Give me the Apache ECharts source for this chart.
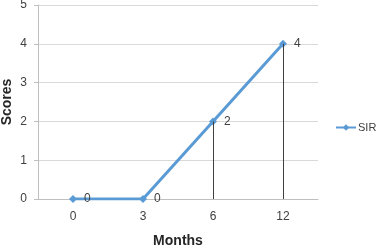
<!DOCTYPE html>
<html><head><meta charset="utf-8">
<script src="https://cdn.jsdelivr.net/npm/echarts@6/dist/echarts.min.js"></script>
<style>html,body{margin:0;padding:0;background:#fff}#c{width:378px;height:248px}</style>
</head><body><div id="c"></div>
<script>
const categories = ['0', '3', '6', '12'];
const sirValues = [0, 0, 2, 4];
const yTicks = [0, 1, 2, 3, 4, 5];
const seriesName = 'SIR';
const xTitle = 'Months';
const yTitle = 'Scores';

const dropLines = categories.map((c, i) => [{coord: [c, sirValues[i]]}, {coord: [c, 0]}]);
const font = 'Liberation Sans, Arial, sans-serif';
const chart = echarts.init(document.getElementById('c'));
chart.setOption({
  animation: false,
  grid: {left: 38, right: 60, top: 5, bottom: 49, outerBoundsMode: 'none', containLabel: false},
  legend: {
    data: [seriesName], left: 335, top: 122, padding: 0, itemWidth: 20, itemHeight: 8, itemGap: 4,
    textStyle: {fontFamily: font, fontSize: 11, color: '#404040', padding: [0, 0, 0, -3]}
  },
  xAxis: {
    type: 'category', data: categories, boundaryGap: true,
    name: xTitle, nameLocation: 'middle', nameGap: 35, nameMoveOverlap: false,
    nameTextStyle: {fontFamily: font, fontSize: 14, fontWeight: 'bold', color: '#262626'},
    axisLine: {lineStyle: {color: '#bfbfbf'}}, axisTick: {show: false},
    axisLabel: {fontFamily: font, fontSize: 12, color: '#404040', margin: 12}
  },
  yAxis: {
    type: 'value', min: yTicks[0], max: yTicks[yTicks.length - 1], interval: 1,
    name: yTitle, nameLocation: 'middle', nameGap: 24, nameRotate: 90, nameMoveOverlap: false,
    nameTextStyle: {fontFamily: font, fontSize: 14, fontWeight: 'bold', color: '#262626'},
    axisLine: {show: true, lineStyle: {color: '#bfbfbf'}},
    axisTick: {show: true, length: 4, lineStyle: {color: '#bfbfbf'}},
    splitLine: {lineStyle: {color: '#d9d9d9'}},
    axisLabel: {fontFamily: font, fontSize: 12, color: '#404040', margin: 11}
  },
  series: [{
    name: seriesName, type: 'line', data: sirValues,
    symbol: 'diamond', symbolSize: 8,
    lineStyle: {color: '#5B9BD5', width: 3},
    itemStyle: {color: '#5B9BD5'},
    label: {show: true, position: 'right', distance: 7, fontFamily: font, fontSize: 12, color: '#404040'},
    markLine: {
      silent: true, symbol: 'none', label: {show: false},
      lineStyle: {color: '#404040', width: 1, type: 'solid'},
      data: dropLines
    }
  }]
});
</script></body></html>
